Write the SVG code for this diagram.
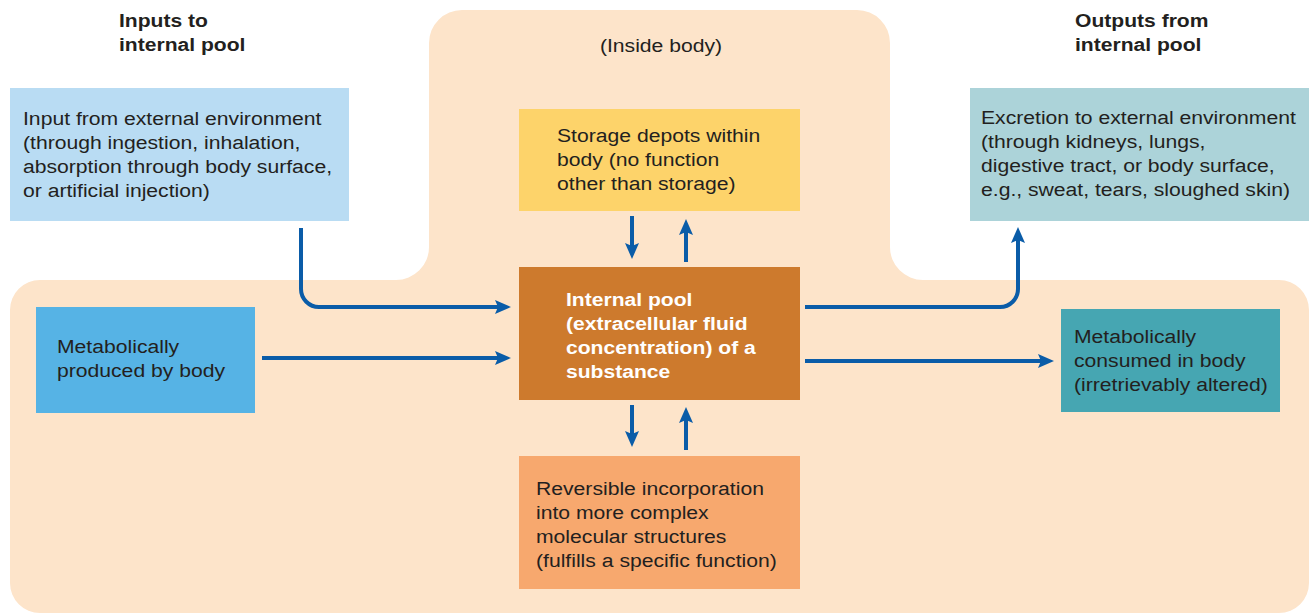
<svg xmlns="http://www.w3.org/2000/svg" width="1309" height="614" viewBox="0 0 1309 614">
<defs>
<style>
.t{font-family:"Liberation Sans",Arial,sans-serif;font-size:18px;fill:#231f20}
.h{font-family:"Liberation Sans",Arial,sans-serif;font-size:19px;font-weight:bold;fill:#231f20}
.w{font-family:"Liberation Sans",Arial,sans-serif;font-size:19px;font-weight:bold;fill:#ffffff}
.a{fill:none;stroke:#0a5ca8;stroke-width:4}
</style>
<marker id="ah" viewBox="0 0 16 14" refX="8" refY="7" markerWidth="16" markerHeight="14" markerUnits="userSpaceOnUse" orient="auto">
<path d="M0,0 L16,7 L0,14 L3,7 Z" fill="#0a5ca8"/>
</marker>
</defs>
<rect width="1309" height="614" fill="#ffffff"/>
<path id="body" d="M40,280 L396,280 A33,33 0 0 0 429,247 L429,43 A33,33 0 0 1 462,10 L857,10 A33,33 0 0 1 890,43 L890,247 A33,33 0 0 0 923,280 L1279,280 A30,30 0 0 1 1309,310 L1309,583 A30,30 0 0 1 1279,613 L40,613 A30,30 0 0 1 10,583 L10,310 A30,30 0 0 1 40,280 Z" fill="#fde4ca"/>
<g id="heading-inputs" transform="translate(119,0) scale(1.11,1)">
<text class="h" x="0" y="27">Inputs to</text>
<text class="h" x="0" y="51">internal pool</text>
</g>
<g id="heading-outputs" transform="translate(1075,0) scale(1.11,1)">
<text class="h" x="0" y="27">Outputs from</text>
<text class="h" x="0" y="51">internal pool</text>
</g>
<g id="inside-label" transform="translate(661,0) scale(1.175,1)">
<text class="t" x="0" y="52" text-anchor="middle">(Inside body)</text>
</g>
<g id="input">
<rect x="10" y="88" width="339" height="133" fill="#b9dcf3"/>
<g transform="translate(23,0) scale(1.175,1)">
<text class="t" x="0" y="125">Input from external environment</text>
<text class="t" x="0" y="149">(through ingestion, inhalation,</text>
<text class="t" x="0" y="173">absorption through body surface,</text>
<text class="t" x="0" y="197">or artificial injection)</text>
</g>
</g>
<g id="produced">
<rect x="36" y="307" width="219" height="106" fill="#56b3e5"/>
<g transform="translate(57,0) scale(1.175,1)">
<text class="t" x="0" y="353">Metabolically</text>
<text class="t" x="0" y="377">produced by body</text>
</g>
</g>
<g id="storage">
<rect x="519" y="109" width="281" height="102" fill="#fdd36a"/>
<g transform="translate(557,0) scale(1.175,1)">
<text class="t" x="0" y="142">Storage depots within</text>
<text class="t" x="0" y="166">body (no function</text>
<text class="t" x="0" y="190">other than storage)</text>
</g>
</g>
<g id="pool">
<rect x="519" y="267" width="281" height="133" fill="#cd7a2d"/>
<g transform="translate(566,0) scale(1.11,1)">
<text class="w" x="0" y="306">Internal pool</text>
<text class="w" x="0" y="330">(extracellular fluid</text>
<text class="w" x="0" y="354">concentration) of a</text>
<text class="w" x="0" y="378">substance</text>
</g>
</g>
<g id="reversible">
<rect x="519" y="456" width="281" height="133" fill="#f7a86e"/>
<g transform="translate(536,0) scale(1.175,1)">
<text class="t" x="0" y="495">Reversible incorporation</text>
<text class="t" x="0" y="519">into more complex</text>
<text class="t" x="0" y="543">molecular structures</text>
<text class="t" x="0" y="567">(fulfills a specific function)</text>
</g>
</g>
<g id="excretion">
<rect x="970" y="88" width="339" height="133" fill="#acd3d9"/>
<g transform="translate(981,0) scale(1.175,1)">
<text class="t" x="0" y="124">Excretion to external environment</text>
<text class="t" x="0" y="148">(through kidneys, lungs,</text>
<text class="t" x="0" y="172">digestive tract, or body surface,</text>
<text class="t" x="0" y="196">e.g., sweat, tears, sloughed skin)</text>
</g>
</g>
<g id="consumed">
<rect x="1061" y="309" width="219" height="103" fill="#46a6b2"/>
<g transform="translate(1074,0) scale(1.175,1)">
<text class="t" x="0" y="343">Metabolically</text>
<text class="t" x="0" y="367">consumed in body</text>
<text class="t" x="0" y="391">(irretrievably altered)</text>
</g>
</g>
<g id="connectors">
<path class="a" d="M301,228 L301,289 A18,18 0 0 0 319,307 L503,307" marker-end="url(#ah)"/>
<path class="a" d="M262,358 L503,358" marker-end="url(#ah)"/>
<path class="a" d="M632,216 L632,251" marker-end="url(#ah)"/>
<path class="a" d="M686,262 L686,227" marker-end="url(#ah)"/>
<path class="a" d="M632,405 L632,439" marker-end="url(#ah)"/>
<path class="a" d="M686,450 L686,415" marker-end="url(#ah)"/>
<path class="a" d="M805,307 L1000,307 A18,18 0 0 0 1018,289 L1018,235" marker-end="url(#ah)"/>
<path class="a" d="M805,361 L1046,361" marker-end="url(#ah)"/>
</g>
</svg>
